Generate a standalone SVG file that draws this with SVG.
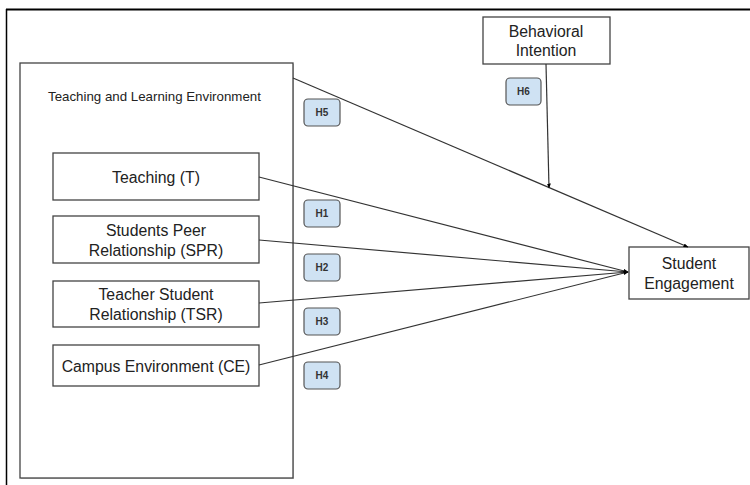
<svg xmlns="http://www.w3.org/2000/svg" width="750" height="485" viewBox="0 0 750 485">
<defs>
<marker id="arr" viewBox="0 0 10 10" refX="9" refY="5" markerWidth="5" markerHeight="5" orient="auto" markerUnits="userSpaceOnUse">
<path d="M0,1 L10,5 L0,9 z" fill="#000"/>
</marker>
</defs>
<style>
.box{fill:#fff;stroke:#444;stroke-width:1.3}
.badge{fill:#cfe2f3;stroke:#555;stroke-width:1.2}
.t{font-family:"Liberation Sans",Arial,sans-serif;font-size:15.8px;fill:#222;text-anchor:middle}
.s{font-family:"Liberation Sans",Arial,sans-serif;font-size:13.3px;fill:#222}
.b{font-family:"Liberation Sans",Arial,sans-serif;font-size:10px;font-weight:bold;fill:#333;text-anchor:middle}
.c{fill:none;stroke:#333;stroke-width:1.2}
</style>
<rect width="750" height="485" fill="#fff"/>
<g id="frame">
<line x1="6" y1="9.5" x2="750" y2="9.5" stroke="#000" stroke-width="2"/>
<line x1="6.5" y1="9" x2="6.5" y2="485" stroke="#000" stroke-width="1.5"/>
</g>
<g id="tle">
<rect x="21" y="64" width="273" height="415" fill="#999" opacity="0.5"/>
<rect class="box" x="20" y="63" width="273" height="415"/>
<text class="s" x="48" y="101">Teaching and Learning Environment</text>
</g>
<g id="teaching">
<rect class="box" x="53" y="153" width="206" height="47"/>
<text class="t" x="156" y="183">Teaching (T)</text>
</g>
<g id="spr">
<rect class="box" x="53" y="216" width="206" height="47"/>
<text class="t" x="156" y="236">Students Peer</text>
<text class="t" x="156" y="256">Relationship (SPR)</text>
</g>
<g id="tsr">
<rect class="box" x="53" y="281" width="206" height="46"/>
<text class="t" x="156" y="300">Teacher Student</text>
<text class="t" x="156" y="320">Relationship (TSR)</text>
</g>
<g id="ce">
<rect class="box" x="53" y="345" width="206" height="41"/>
<text class="t" x="156" y="372">Campus Environment (CE)</text>
</g>
<g id="bi">
<rect class="box" x="483" y="17" width="127" height="47"/>
<text class="t" x="546" y="37">Behavioral</text>
<text class="t" x="546" y="56">Intention</text>
</g>
<g id="se">
<rect class="box" x="629" y="247" width="120" height="52"/>
<text class="t" x="689" y="269">Student</text>
<text class="t" x="689" y="289">Engagement</text>
</g>
<g id="badges">
<g id="h5"><rect class="badge" x="304" y="99" width="36" height="27" rx="4"/><text class="b" x="322" y="116">H5</text></g>
<g id="h1"><rect class="badge" x="304" y="200" width="36" height="27" rx="4"/><text class="b" x="322" y="217">H1</text></g>
<g id="h2"><rect class="badge" x="304" y="254" width="36" height="27" rx="4"/><text class="b" x="322" y="271">H2</text></g>
<g id="h3"><rect class="badge" x="304" y="308" width="36" height="27" rx="4"/><text class="b" x="322" y="325">H3</text></g>
<g id="h4"><rect class="badge" x="304" y="362" width="36" height="27" rx="4"/><text class="b" x="322" y="379">H4</text></g>
<g id="h6"><rect class="badge" x="506" y="78" width="35" height="27" rx="4"/><text class="b" x="523.5" y="95">H6</text></g>
</g>
<g id="connectors">
<line class="c" x1="293" y1="78" x2="688" y2="247" marker-end="url(#arr)"/>
<line class="c" x1="546" y1="64" x2="549" y2="188" marker-end="url(#arr)"/>
<line class="c" x1="259" y1="177" x2="628" y2="272" marker-end="url(#arr)"/>
<line class="c" x1="259" y1="240" x2="628" y2="272" marker-end="url(#arr)"/>
<line class="c" x1="259" y1="303" x2="628" y2="272" marker-end="url(#arr)"/>
<line class="c" x1="259" y1="365" x2="628" y2="272" marker-end="url(#arr)"/>
</g>
</svg>
